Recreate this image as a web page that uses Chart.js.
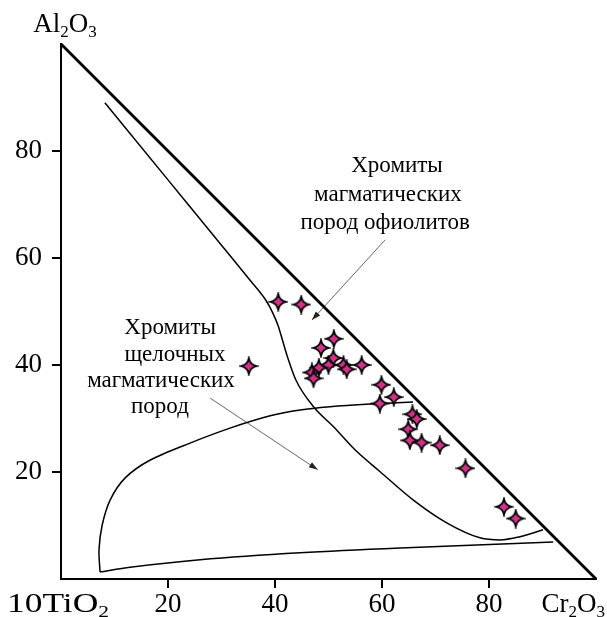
<!DOCTYPE html>
<html>
<head>
<meta charset="utf-8">
<script src="https://cdn.jsdelivr.net/npm/chart.js@4/dist/chart.umd.min.js"></script>
<style>
html,body{margin:0;padding:0;background:#fff;}
#wrap{width:607px;height:617px;}
</style>
</head>
<body>
<div id="wrap"><canvas id="c" width="607" height="617"></canvas></div>
<script>
// ---- Data (x = Cr2O3, y = Al2O3) ----
const sampleCr = [40.6, 44.9, 51.0, 48.6, 50.9, 50.0, 48.2, 52.8, 53.4, 56.2, 46.9, 47.2, 35.1,
                  59.9, 62.2, 59.6, 65.7, 66.5, 64.9, 65.2, 67.4, 70.8, 75.6, 82.8, 85.0];
const sampleAl = [51.8, 51.3, 44.9, 43.2, 41.3, 40.0, 39.5, 40.0, 39.2, 40.0, 38.6, 37.5, 39.8,
                  36.3, 34.0, 32.8, 30.8, 29.9, 28.0, 25.9, 25.5, 25.0, 20.7, 13.5, 11.3];

// Ophiolite magmatic chromite field boundary
const ophioliteCr = [8.2, 20.0, 30.0, 35.3, 36.8, 38.3, 39.6, 40.6, 41.5, 42.4, 43.9, 47.2, 50.9, 55.0, 59.6, 65.8, 72.1, 78.3, 82.1, 85.8, 90.1];
const ophioliteAl = [89.0, 74.6, 62.4, 55.9, 54.1, 52.1, 49.7, 47.3, 44.3, 41.3, 37.2, 32.2, 28.5, 24.1, 20.1, 14.8, 10.5, 7.7, 7.3, 7.9, 9.2];

// Alkaline magmatic chromite field: upper boundary and lower boundary
const alkUpperCr = [65.8, 57.8, 50.3, 44.7, 39.1, 31.6, 24.1, 16.6, 12.0, 9.2, 7.7, 7.1, 7.3];
const alkUpperAl = [33.1, 32.7, 32.2, 31.6, 30.5, 28.2, 25.4, 22.2, 18.9, 14.8, 10.1, 5.4, 1.3];
const alkLowerCr = [7.3, 12.9, 26.0, 44.7, 63.4, 92.0];
const alkLowerAl = [1.3, 2.2, 3.6, 4.9, 5.8, 6.9];

// Triangle side (Al2O3 - Cr2O3)
const sideCr = [0, 100];
const sideAl = [100, 0];

// Tick values
const tickValues = [0, 20, 40, 60, 80, 100];

// Annotation arrows [startCr, startAl, endCr, endAl]
const arrowOphiolite = [60.6, 63.4, 46.9, 48.4];
const arrowAlkaline = [27.9, 33.8, 48.0, 20.4];

// Annotation texts
const labelOphiolite = ['Хромиты', 'магматических', 'пород офиолитов'];
const labelAlkaline = ['Хромиты', 'щелочных', 'магматических', 'пород'];

// ---- helpers ----
const zip = (xs, ys) => xs.map((x, i) => ({x: x, y: ys[i]}));

function makeStar(r) {
  const s = Math.ceil(2 * r + 4);
  const c = document.createElement('canvas');
  c.width = s; c.height = s;
  const g = c.getContext('2d');
  const cx = s / 2, cy = s / 2, k = r * 0.16;
  g.beginPath();
  g.moveTo(cx, cy - r);
  g.quadraticCurveTo(cx + k, cy - k, cx + r, cy);
  g.quadraticCurveTo(cx + k, cy + k, cx, cy + r);
  g.quadraticCurveTo(cx - k, cy + k, cx - r, cy);
  g.quadraticCurveTo(cx - k, cy - k, cx, cy - r);
  g.closePath();
  g.fillStyle = '#d1338a';
  g.fill();
  g.lineWidth = 1.7;
  g.strokeStyle = '#000';
  g.stroke();
  return c;
}
const starImg = makeStar(8);

const SERIF = '"Liberation Serif", "Times New Roman", serif';

function drawRich(ctx, parts, x, y, align, size, targetW) {
  const subSize = Math.round(size * 0.62);
  let w = 0;
  parts.forEach(p => {
    ctx.font = (p[1] ? subSize : size) + 'px ' + SERIF;
    w += ctx.measureText(p[0]).width;
  });
  const sx = targetW ? targetW / w : 1;
  const W = w * sx;
  let x0 = align === 'right' ? x - W : (align === 'center' ? x - W / 2 : x);
  ctx.save();
  ctx.translate(x0, y);
  ctx.scale(sx, 1);
  ctx.textAlign = 'left';
  ctx.textBaseline = 'alphabetic';
  let cx = 0;
  parts.forEach(p => {
    ctx.font = (p[1] ? subSize : size) + 'px ' + SERIF;
    ctx.fillText(p[0], cx, p[1] ? size * 0.18 : 0);
    cx += ctx.measureText(p[0]).width;
  });
  ctx.restore();
}

const annotationPlugin = {
  id: 'annot',
  afterDatasetsDraw(chart) {
    const ctx = chart.ctx;
    const xs = chart.scales.x, ys = chart.scales.y;
    const ca = chart.chartArea;
    ctx.save();
    // arrowheads
    [arrowOphiolite, arrowAlkaline].forEach(a => {
      const x0 = xs.getPixelForValue(a[0]), y0 = ys.getPixelForValue(a[1]);
      const x1 = xs.getPixelForValue(a[2]), y1 = ys.getPixelForValue(a[3]);
      const ang = Math.atan2(y1 - y0, x1 - x0);
      const L = 9, W = 3;
      ctx.beginPath();
      ctx.moveTo(x1, y1);
      ctx.lineTo(x1 - L * Math.cos(ang) + W * Math.sin(ang), y1 - L * Math.sin(ang) - W * Math.cos(ang));
      ctx.lineTo(x1 - L * Math.cos(ang) - W * Math.sin(ang), y1 - L * Math.sin(ang) + W * Math.cos(ang));
      ctx.closePath();
      ctx.fillStyle = '#222';
      ctx.fill();
    });
    // text blocks
    ctx.fillStyle = '#000';
    ctx.font = '23px ' + SERIF;
    ctx.textAlign = 'center';
    ctx.textBaseline = 'middle';
    const opx = [62.8, 61.1, 60.6], opy = [77.2, 71.8, 66.5];
    labelOphiolite.forEach((t, i) => ctx.fillText(t, xs.getPixelForValue(opx[i]), ys.getPixelForValue(opy[i])));
    const apx = [20.4, 21.3, 18.7, 18.5], apy = [46.9, 41.9, 37.0, 32.1];
    labelAlkaline.forEach((t, i) => ctx.fillText(t, xs.getPixelForValue(apx[i]), ys.getPixelForValue(apy[i])));
    // axis names
    drawRich(ctx, [['Al', false], ['2', true], ['O', false], ['3', true]], ca.left + 4, 32, 'center', 27);
    drawRich(ctx, [['10TiO', false], ['2', true]], 7, 612, 'left', 28, 102);
    drawRich(ctx, [['Cr', false], ['2', true], ['O', false], ['3', true]], 605, 612, 'right', 27);
    ctx.restore();
  }
};

const tickColor = c => (c.tick && (c.tick.value === 0 || c.tick.value === 100)) ? 'rgba(0,0,0,0)' : '#000';

const chart = new Chart(document.getElementById('c'), {
  type: 'scatter',
  data: {
    datasets: [
      {
        label: 'samples',
        data: zip(sampleCr, sampleAl),
        pointStyle: starImg,
        pointRadius: 8,
        showLine: false,
        clip: false
      },
      {
        label: 'side',
        data: zip(sideCr, sideAl),
        showLine: true, borderColor: '#000', borderWidth: 2.8, pointRadius: 0, clip: false
      },
      {
        label: 'ophiolite',
        data: zip(ophioliteCr, ophioliteAl),
        showLine: true, borderColor: '#000', borderWidth: 1.5, pointRadius: 0,
        cubicInterpolationMode: 'monotone', clip: false
      },
      {
        label: 'alkUpper',
        data: zip(alkUpperCr, alkUpperAl),
        showLine: true, borderColor: '#000', borderWidth: 1.5, pointRadius: 0, tension: 0.3, clip: false
      },
      {
        label: 'alkLower',
        data: zip(alkLowerCr, alkLowerAl),
        showLine: true, borderColor: '#000', borderWidth: 1.5, pointRadius: 0, tension: 0.3, clip: false
      },
      {
        label: 'arrow1',
        data: [{x: arrowOphiolite[0], y: arrowOphiolite[1]}, {x: arrowOphiolite[2], y: arrowOphiolite[3]}],
        showLine: true, borderColor: '#666', borderWidth: 1, pointRadius: 0, clip: false
      },
      {
        label: 'arrow2',
        data: [{x: arrowAlkaline[0], y: arrowAlkaline[1]}, {x: arrowAlkaline[2], y: arrowAlkaline[3]}],
        showLine: true, borderColor: '#666', borderWidth: 1, pointRadius: 0, clip: false
      }
    ]
  },
  options: {
    responsive: false,
    devicePixelRatio: 1,
    animation: false,
    layout: {padding: {top: 44, right: 11, left: 0, bottom: 0}},
    plugins: {legend: {display: false}, tooltip: {enabled: false}},
    scales: {
      x: {
        type: 'linear', min: 0, max: 100,
        afterBuildTicks: s => { s.ticks = tickValues.map(v => ({value: v})); },
        afterFit: s => { s.height = 38; },
        ticks: {
          callback: v => (v === 0 || v === 100) ? '' : String(v),
          font: {family: SERIF, size: 27}, color: '#000', padding: 1, maxRotation: 0
        },
        grid: {drawOnChartArea: false, drawTicks: true, tickLength: 9, lineWidth: 2, color: tickColor},
        border: {display: true, color: '#000', width: 2}
      },
      y: {
        type: 'linear', min: 0, max: 100,
        afterBuildTicks: s => { s.ticks = tickValues.map(v => ({value: v})); },
        afterFit: s => { s.width = 61; },
        ticks: {
          callback: v => (v === 0 || v === 100) ? '' : String(v),
          font: {family: SERIF, size: 27}, color: '#000', padding: 10
        },
        grid: {drawOnChartArea: false, drawTicks: true, tickLength: 9, lineWidth: 2, color: tickColor},
        border: {display: true, color: '#000', width: 2}
      }
    }
  },
  plugins: [annotationPlugin]
});
</script>
</body>
</html>
